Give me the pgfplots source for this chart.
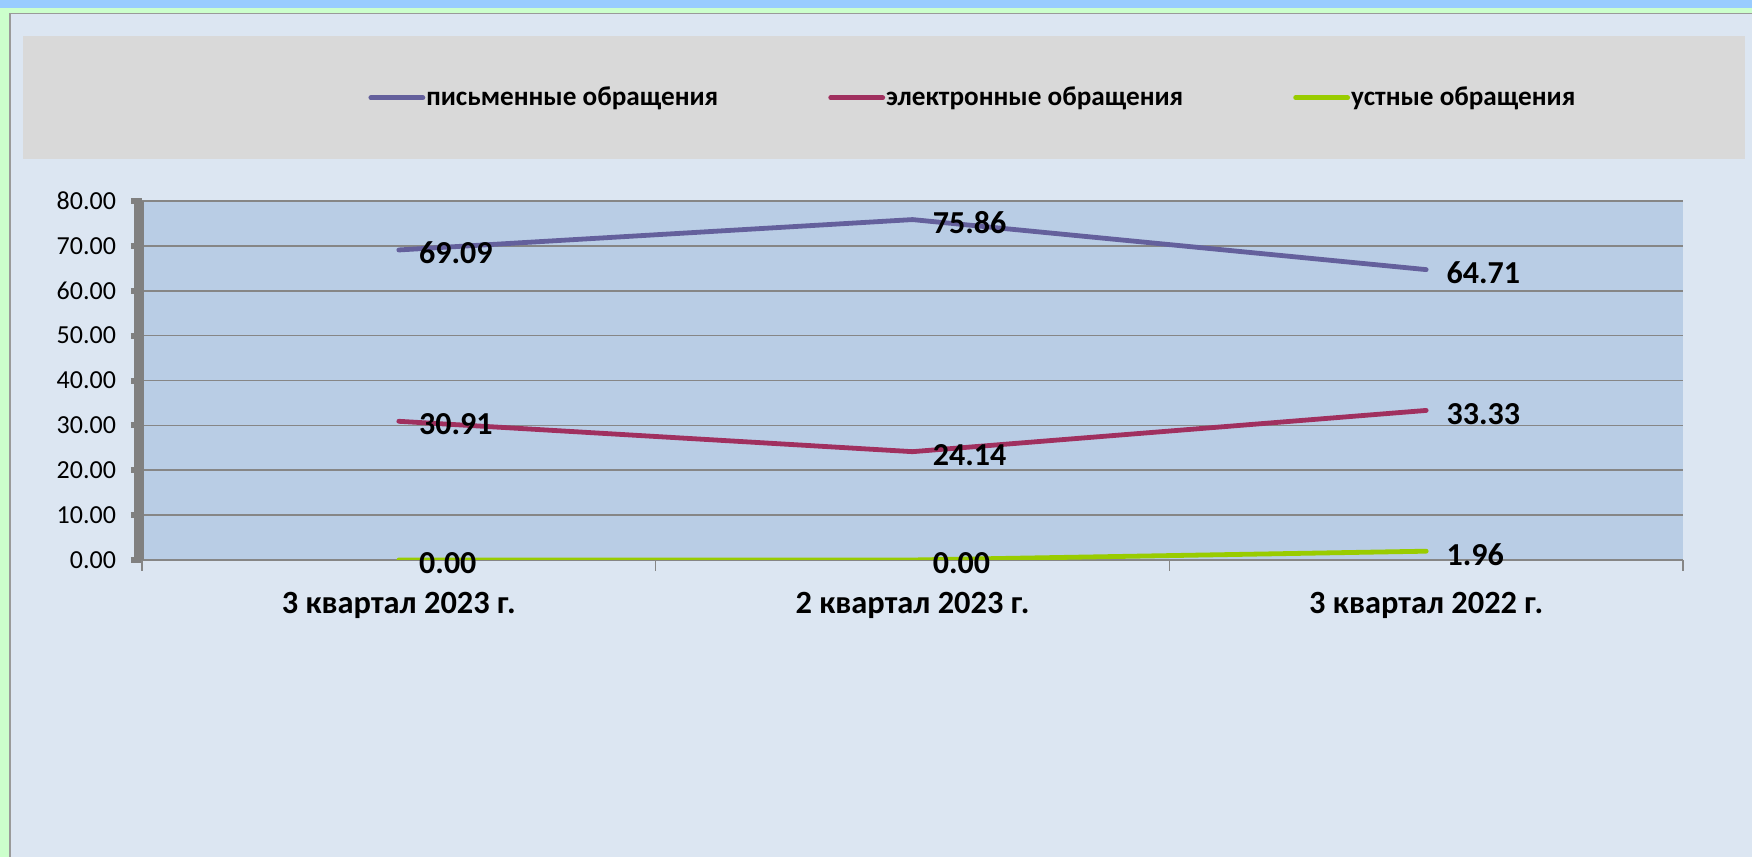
\documentclass[border=0pt]{standalone}
\usepackage{fontspec}
\setmainfont{Carlito}
\usepackage{pgfplots}
\pgfplotsset{compat=1.18}
\definecolor{outergreen}{HTML}{CCFFCC}
\definecolor{topblue}{HTML}{99CCFF}
\definecolor{chartbg}{HTML}{DCE6F2}
\definecolor{plotbg}{HTML}{B9CDE5}
\definecolor{legbg}{HTML}{D9D9D9}
\definecolor{gridgray}{HTML}{868686}
\definecolor{axgray}{HTML}{808080}
\definecolor{cpis}{HTML}{64609C}
\definecolor{cel}{HTML}{A0305F}
\definecolor{cust}{HTML}{99CC00}
\begin{document}
\begin{tikzpicture}
% page background (decoration only)
\fill[outergreen] (0,0) rectangle (876pt,428.5pt);
\fill[topblue] (0,424.5pt) rectangle (876pt,428.5pt);
\fill[chartbg] (5pt,0) rectangle (876pt,421.75pt);
\draw[axgray!80, line width=0.8pt] (5pt,0) -- (5pt,421.75pt) -- (876pt,421.75pt);
\fill[legbg] (11.5pt,348.85pt) rectangle (872.5pt,410.5pt);
\begin{axis}[
  at={(71pt,148.5pt)}, anchor=south west,
  scale only axis,
  width=770.5pt, height=179.5pt,
  xmin=-0.5, xmax=2.5,
  ymin=0, ymax=80,
  axis background/.style={fill=plotbg},
  axis x line*=bottom, axis y line*=left,
  x axis line style={-, draw=gridgray, line width=0.8pt},
  y axis line style={-, draw=axgray, line width=4.75pt, xshift=-1.6pt},
  ytick={0,10,20,30,40,50,60,70,80},
  yticklabels={0.00,10.00,20.00,30.00,40.00,50.00,60.00,70.00,80.00},
  ymajorgrids,
  grid style={draw=gridgray, line width=0.8pt},
  tick align=outside,
  major tick length=5.5pt,
  ytick style={draw=axgray, line width=3pt},
  yticklabel style={font=\fontsize{13}{15}\selectfont, xshift=-4pt},
  xtick={0,1,2},
  xticklabels={3 квартал 2023 г., 2 квартал 2023 г., 3 квартал 2022 г.},
  xtick style={draw=none},
  xticklabel style={font=\bfseries\fontsize{16.2}{19}\selectfont, yshift=-7pt},
  extra x ticks={-0.5,0.5,1.5,2.5},
  extra x tick labels={},
  extra x tick style={xtick style={draw=gridgray, line width=0.6pt}, grid=none},
  point meta=explicit symbolic,
  nodes near coords,
  every node near coord/.append style={anchor=west, xshift=9pt, yshift=-1.6pt, inner sep=0pt, text=black, font=\bfseries\fontsize{16}{19}\selectfont},
  legend columns=3,
  legend style={at={(0.1467,1.2877)}, anchor=west, draw=none, fill=none, inner sep=0pt,
    font=\bfseries\fontsize{13.6}{16}\selectfont,
    nodes={inner sep=0pt},
    /tikz/every odd column/.append style={column sep=0.5pt},
    /tikz/every even column/.append style={column sep=55pt}},
  legend image code/.code={\draw[#1, line cap=round] (0pt,0pt) -- (26pt,0pt);},
]
\addplot[cpis, line width=2.4pt, line cap=round, mark=none] coordinates {(0,69.09) [69.09] (1,75.86) [75.86] (2,64.71) [64.71]};
\addlegendentry{письменные обращения}
\addplot[cel, line width=2.4pt, line cap=round, mark=none] coordinates {(0,30.91) [30.91] (1,24.14) [24.14] (2,33.33) [33.33]};
\addlegendentry{электронные обращения}
\addplot[cust, line width=2.4pt, line cap=round, mark=none] coordinates {(0,0) [0.00] (1,0) [0.00] (2,1.96) [1.96]};
\addlegendentry{устные обращения}
\end{axis}
\pgfresetboundingbox
\path[use as bounding box] (0,0) rectangle (876pt,428.5pt);
\end{tikzpicture}
\end{document}
